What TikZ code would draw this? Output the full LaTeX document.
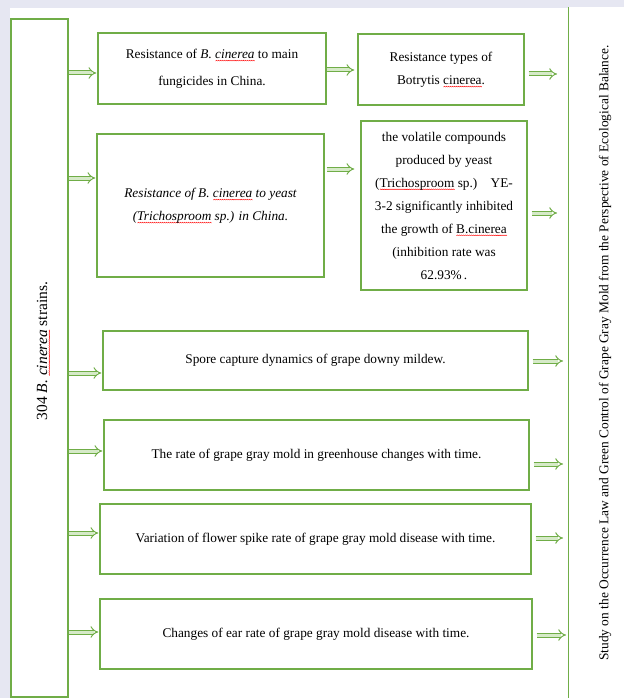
\documentclass[tikz,border=0pt]{standalone}
\usepackage{fontspec}
\setmainfont{Liberation Serif}
\usetikzlibrary{arrows.meta, positioning}
\definecolor{boxgreen}{RGB}{112,173,71}
\definecolor{pagebg}{RGB}{230,231,242}
\definecolor{arrowfill}{RGB}{214,234,200}
% red spell-check wave under a word
\newcommand{\spellwave}[1]{\leavevmode\setbox0\hbox{#1}\rlap{\raisebox{-3pt}[0pt][0pt]{\hbox to \wd0{\xleaders\hbox to 2pt{\tikz[x=1pt,y=1pt]\draw[red,line width=0.4pt] (0,0)--(1,0.9)--(2,0);}\hfill}}}\box0\relax}

\begin{document}
\begin{tikzpicture}[
  x=1pt, y=-1pt,
  box/.style={rectangle, draw=boxgreen, line width=1.4pt, fill=white, align=center, inner sep=0pt, font=\fontsize{13.3}{23}\selectfont},
  lbl/.style={rotate=90, font=\fontsize{13.4}{15}\selectfont},
  dbl/.style={draw=boxgreen, line width=1pt, double=arrowfill, double distance=3pt, -{Implies}},
]
  \useasboundingbox (0,0) rectangle (624,698);
  \fill[pagebg] (0,0) rectangle (624,698);
  \fill[white] (10,8) rectangle (624,698);

  \begin{scope}
    \clip (10,8) rectangle (624,698);
    \node[box, minimum width=57pt, minimum height=678pt] (strains) at (39.5,358) {};
    \node[box, anchor=west, minimum width=120pt, minimum height=730pt] (titlebox) at (568,350) {};
  \end{scope}

  \node[lbl, font=\fontsize{15.5}{17}\selectfont] (strainslbl) at (42,351) {304 \textit{B. \spellwave{cinerea}} strains.};
  \node[lbl] (titlelbl) at (605,353) {Study on the Occurrence Law and Green Control of Grape Gray Mold from the Perspective of Ecological Balance.};

  % upper part
  \node[box, minimum width=228pt, minimum height=71pt, font=\fontsize{13.3}{27}\selectfont] (A) at (212,68.5)
    {Resistance of \textit{B. \spellwave{cinerea}} to main\\fungicides in China.};
  \node[box, minimum width=166pt, minimum height=71pt] (B) at (441,69.5)
    {Resistance types of\\Botrytis \spellwave{cinerea}.};
  \node[box, minimum width=227pt, minimum height=143pt, font=\fontsize{13.3}{23}\selectfont\itshape] (C) at (210.5,205.5)
    {Resistance of B. \spellwave{cinerea} to yeast\\(\spellwave{Trichosproom} sp.) in China.};
  \node[box, minimum width=166pt, minimum height=169pt] (D) at (444,205.5)
    {the volatile compounds\\produced by yeast\\(\spellwave{Trichosproom} sp.)\quad YE-\\3-2 significantly inhibited\\the growth of \spellwave{B.cinerea}\\(inhibition rate was\\62.93\%\,.};

  % lower part
  \node[box, minimum width=425pt, minimum height=59pt] (E) at (315.5,360.5)
    {Spore capture dynamics of grape downy mildew.};
  \node[box, minimum width=425pt, minimum height=70pt] (F) at (316.5,455)
    {The rate of grape gray mold in greenhouse changes with time.};
  \node[box, minimum width=431pt, minimum height=70pt] (G) at (315.5,539)
    {Variation of flower spike rate of grape gray mold disease with time.};
  \node[box, minimum width=432pt, minimum height=70pt] (H) at (316,634)
    {Changes of ear rate of grape gray mold disease with time.};

  % arrows
  \foreach \n/\dy in {A/-4.5, C/27.5, E/-12.5, F/4, G/6, H/2}{
    \coordinate (tip) at ([yshift=\dy pt]\n.west);
    \draw[dbl, shorten >=1pt] (strains.east |- tip) -- (tip);
  }
  \draw[dbl, shorten >=3pt] ([yshift=-1.5pt]A.east) -- ([yshift=-0.5pt]B.west);
  \draw[dbl, shorten <=2pt, shorten >=6pt] ([yshift=36.5pt]C.east) -- ([yshift=36.5pt]D.west);
  \foreach \n/\dy/\gap in {B/-4.5/11, D/-7.5/11, E/-0.5/5, F/-9/5, G/1/5, H/-1/2}{
    \coordinate (out) at ([yshift=\dy pt]\n.east);
    \draw[dbl, shorten <=4pt, shorten >=\gap pt] (out) -- (titlebox.west |- out);
  }
\end{tikzpicture}
\end{document}
